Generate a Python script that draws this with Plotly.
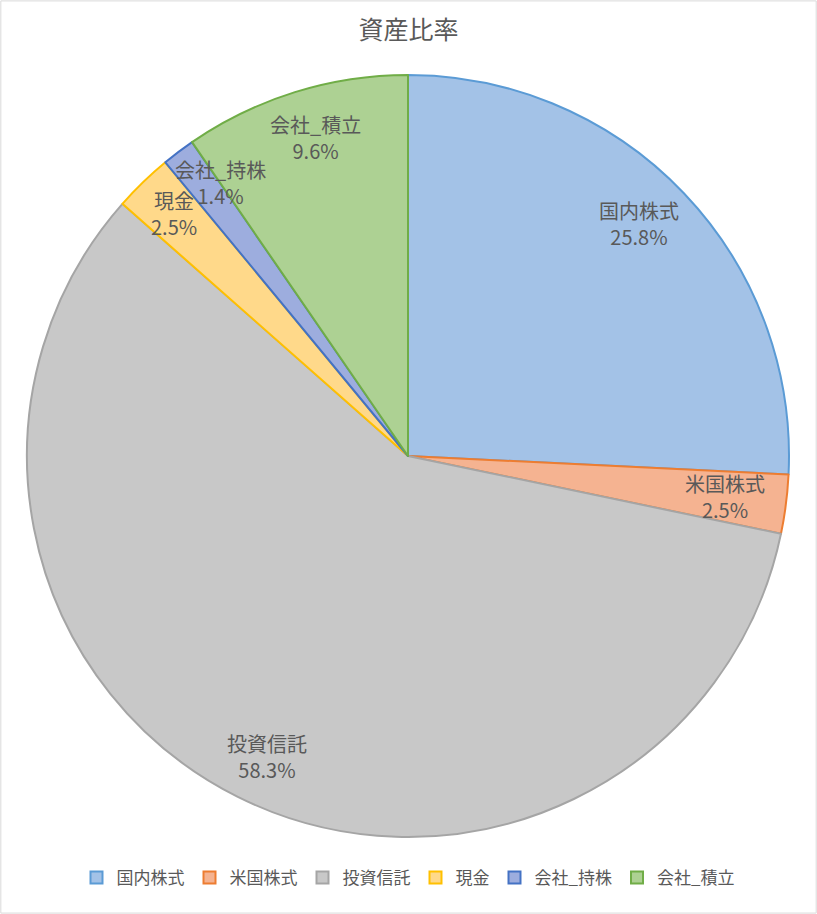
import numpy as np
import plotly.graph_objects as go

W, H = 817, 914

labels = ["国内株式", "米国株式", "投資信託", "現金", "会社_持株", "会社_積立"]
values = [25.8, 2.5, 58.3, 2.5, 1.4, 9.6]
fill_colors = ["#a3c2e7", "#f5b391", "#c8c8c8", "#ffd98a", "#9dadde", "#add193"]
line_colors = ["#5b9bd5", "#ed7d31", "#a5a5a5", "#ffc000", "#4472c4", "#70ad47"]

font_family = "Noto Sans CJK JP, Noto Sans, sans-serif"
text_color = "#595959"

# pie placement in pixels
cx, cy, R = 408, 456, 381

# label radius (fraction of R) and angle nudge (deg), like Excel's best fit
label_r = [0.86, 0.84, 0.87, 0.885, 0.87, 0.87]
label_nudge = [-1.5, 0, -1.5, 0, 2.5, 1.0]

fig = go.Figure()
fig.add_trace(go.Pie(
    labels=labels,
    values=values,
    sort=False,
    direction="clockwise",
    rotation=0,
    textinfo="none",
    hoverinfo="label+percent",
    marker=dict(colors=fill_colors, line=dict(color=line_colors, width=2)),
    domain=dict(x=[(cx - R) / W, (cx + R) / W], y=[1 - (cy + R) / H, 1 - (cy - R) / H]),
))

# data labels at the mid angle of each slice
vals = np.array(values)
cum = np.cumsum(vals) - vals / 2
mid = cum / vals.sum() * 2 * np.pi
for lab, v, a, rf, dn in zip(labels, values, mid, label_r, label_nudge):
    a = a + np.radians(dn)
    r = rf * R
    px = cx + r * np.sin(a)
    py = cy - r * np.cos(a)
    fig.add_annotation(
        x=px / W, y=1 - py / H, xref="paper", yref="paper",
        xanchor="center", yanchor="middle",
        text=f"{lab}<br>{v}%", showarrow=False,
        font=dict(family=font_family, size=20, color=text_color),
        align="center",
    )

fig.update_layout(
    width=W, height=H,
    margin=dict(l=0, r=0, t=0, b=0),
    paper_bgcolor="white",
    title=dict(text="資産比率", x=0.5, xanchor="center", y=1 - 30 / H, yanchor="middle",
               font=dict(family=font_family, size=25, color=text_color)),
    legend=dict(orientation="h", x=0.5, xanchor="center", y=1 - 878 / H, yanchor="middle",
                font=dict(family=font_family, size=17, color=text_color),
                itemwidth=30, traceorder="normal"),
    shapes=[dict(type="rect", xref="paper", yref="paper", x0=0.001, y0=0.001, x1=0.999, y1=0.999,
                 line=dict(color="#d9d9d9", width=1))],
)

fig.write_html("out.html", config={"displayModeBar": False},
               post_script="document.body.style.margin='0';")
